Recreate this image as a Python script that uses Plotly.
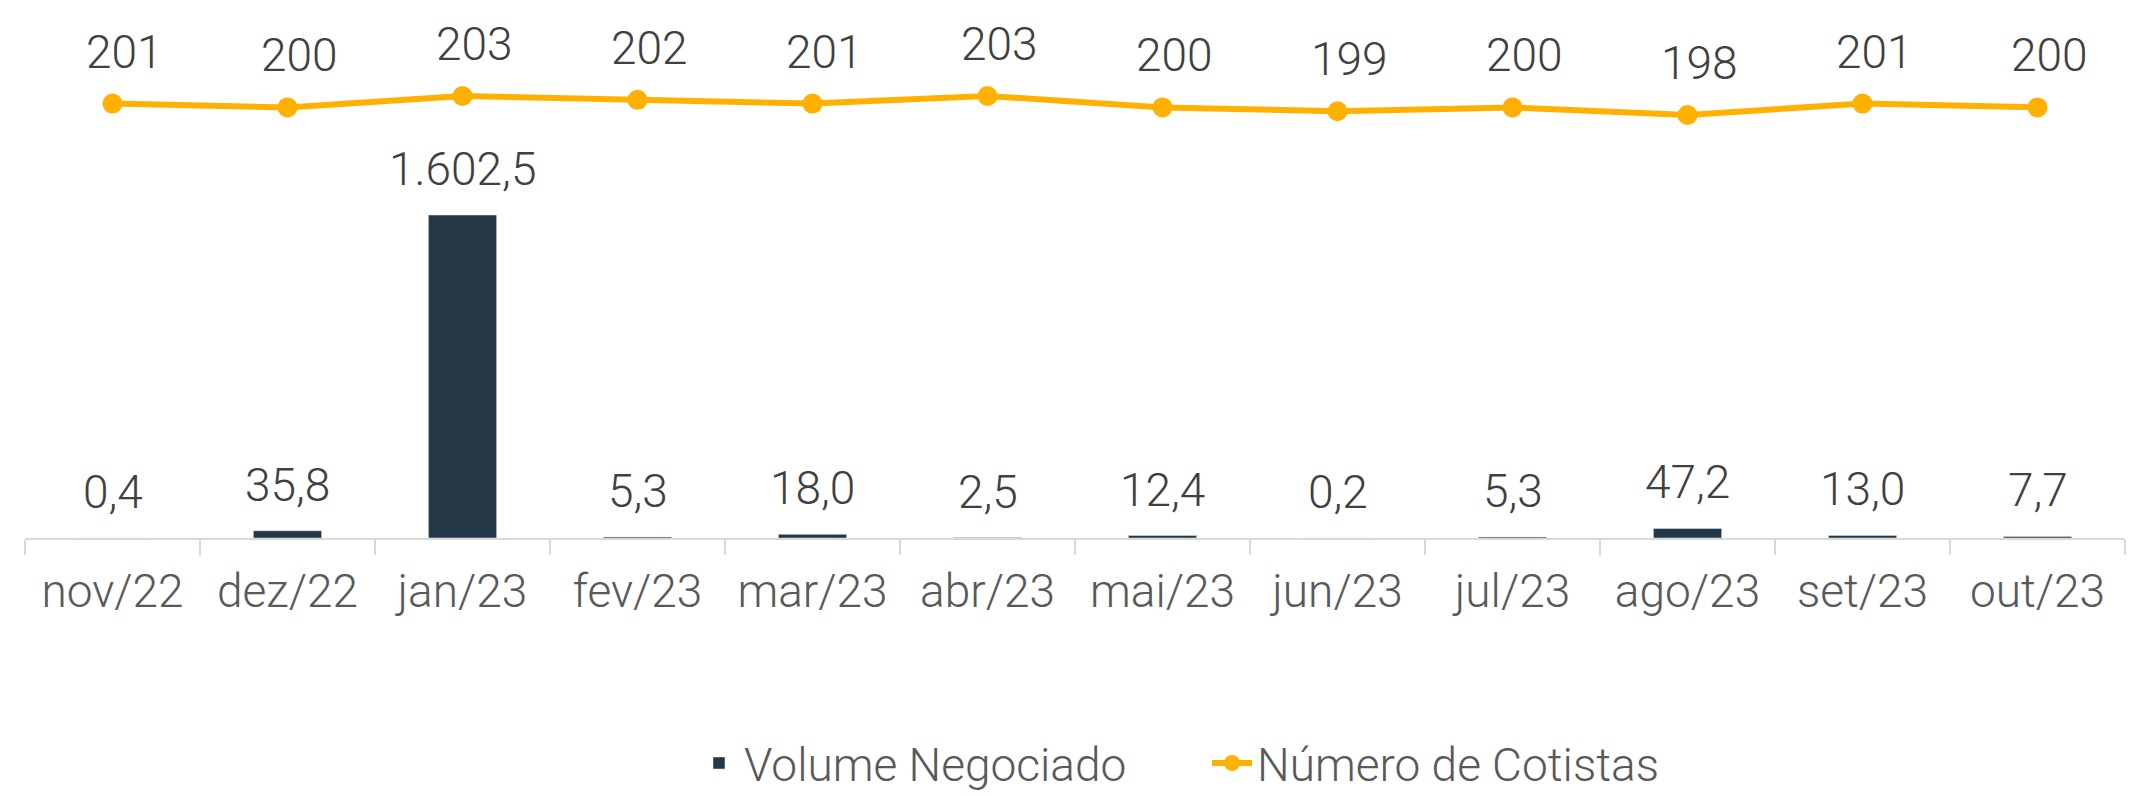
import plotly.graph_objects as go

categories = ["nov/22", "dez/22", "jan/23", "fev/23", "mar/23", "abr/23",
              "mai/23", "jun/23", "jul/23", "ago/23", "set/23", "out/23"]
volume = [0.4, 35.8, 1602.5, 5.3, 18.0, 2.5, 12.4, 0.2, 5.3, 47.2, 13.0, 7.7]
volume_labels = ["0,4", "35,8", "1.602,5", "5,3", "18,0", "2,5", "12,4", "0,2", "5,3", "47,2", "13,0", "7,7"]
cotistas = [201, 200, 203, 202, 201, 203, 200, 199, 200, 198, 201, 200]

BAR = "#243746"
LINE = "#FFB000"
TXT = "#404040"
TICK = "#595959"
FONT = "Roboto"
FS = 46

fig = go.Figure()
fig.add_trace(go.Bar(x=categories, y=volume, name="Volume Negociado",
                     marker_color=BAR, width=0.39, yaxis="y"))
fig.add_trace(go.Scatter(x=categories, y=cotistas, name="Número de Cotistas",
                         mode="lines+markers", yaxis="y2",
                         line=dict(color=LINE, width=6),
                         marker=dict(color=LINE, size=20)))

ann = []
for c, v, t in zip(categories, volume, volume_labels):
    ann.append(dict(x=c, y=v, xref="x", yref="y", text=t, showarrow=False,
                    yanchor="middle", yshift=46,
                    font=dict(family=FONT, size=FS, color=TXT, weight=300)))
for c, v in zip(categories, cotistas):
    ann.append(dict(x=c, y=v, xref="x", yref="y2", text=str(v), showarrow=False,
                    yanchor="middle", yshift=52, xshift=12,
                    font=dict(family=FONT, size=FS, color=TXT, weight=300)))

fig.update_layout(
    width=2138, height=788,
    margin=dict(l=17, r=21, t=12, b=258, autoexpand=False),
    paper_bgcolor="white", plot_bgcolor="white",
    font=dict(family=FONT, size=FS, color=TICK, weight=300),
    showlegend=True,
    legend=dict(orientation="h", x=669 / 2100, xanchor="left",
                y=-0.505, yanchor="bottom",
                font=dict(family=FONT, size=FS, color=TICK, weight=300),
                itemwidth=40, entrywidth=458, entrywidthmode="pixels", tracegroupgap=0),
    xaxis=dict(type="category", range=[-0.5, len(categories) - 0.5],
               showline=True, linecolor="#d9d9d9", linewidth=2,
               ticks="outside", tickson="boundaries", ticklen=15, tickcolor="#d9d9d9",
               tickwidth=2, showgrid=False, ticklabelstandoff=12, automargin=False,
               tickfont=dict(family=FONT, size=FS, color=TICK, weight=300)),
    yaxis=dict(range=[0, 2570], visible=False, showgrid=False, automargin=False),
    yaxis2=dict(range=[86.7, 223], overlaying="y", visible=False, showgrid=False,
                automargin=False),
    annotations=ann,
)

fig.write_html("out.html")
